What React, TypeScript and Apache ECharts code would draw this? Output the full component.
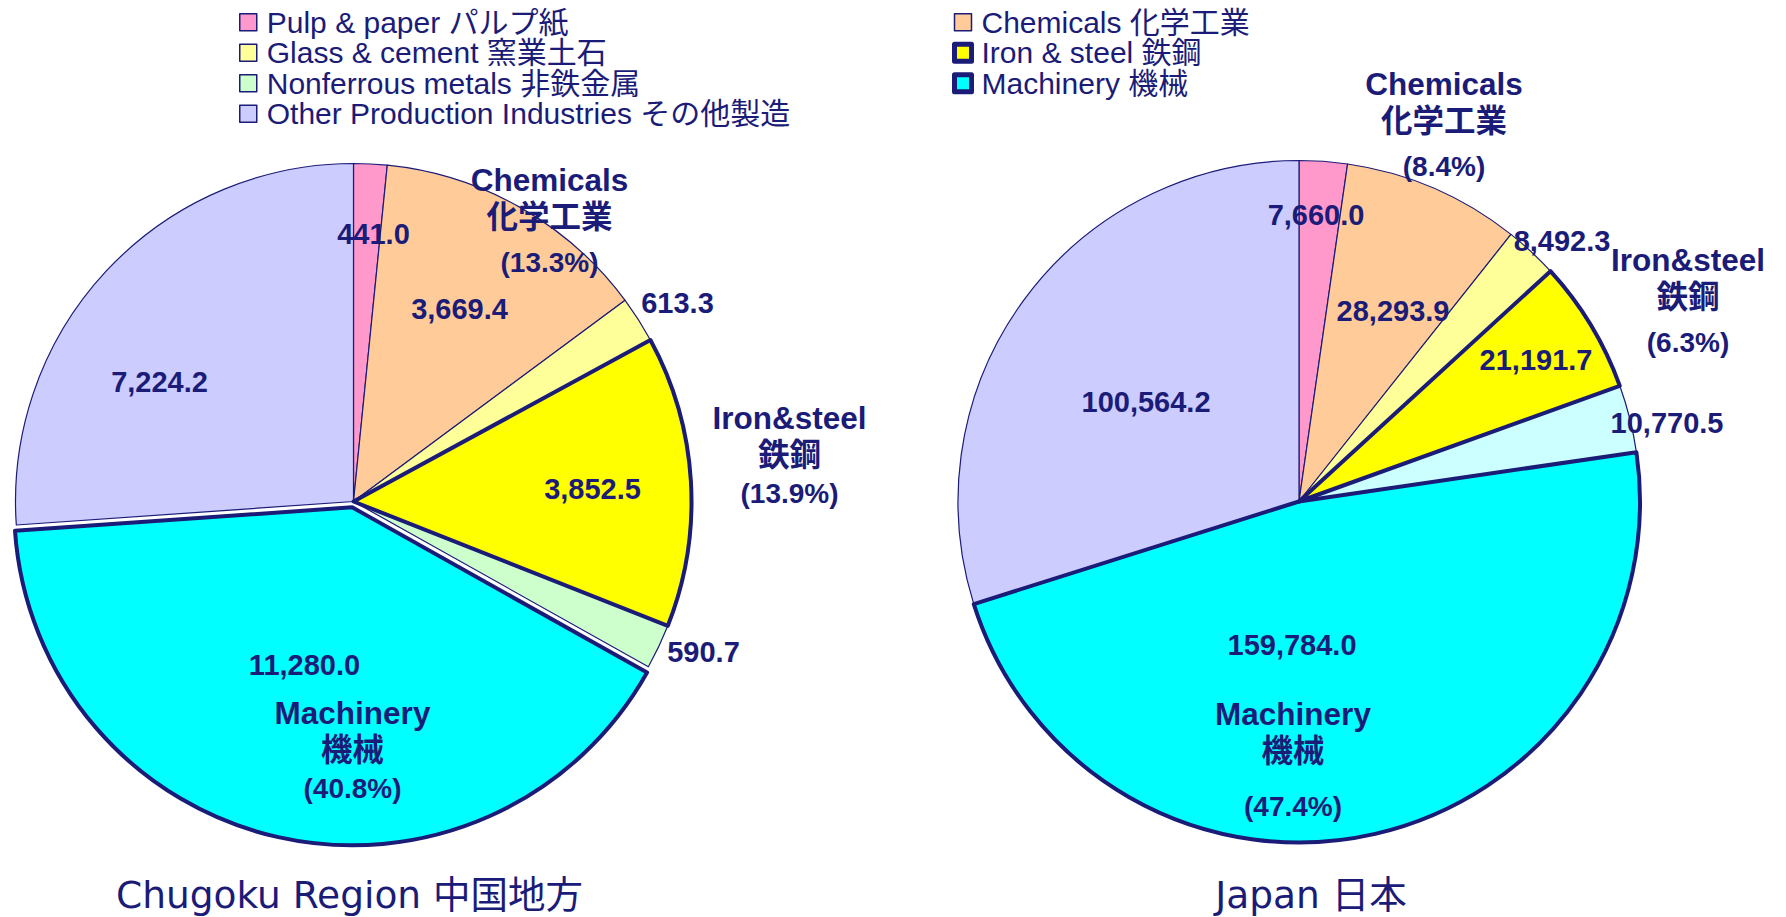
import React, { useEffect, useRef } from 'react';
import * as echarts from 'echarts';

// ---------- data ----------
const categories = [
  'Pulp & paper パルプ紙',
  'Chemicals 化学工業',
  'Glass & cement 窯業土石',
  'Iron & steel 鉄鋼',
  'Nonferrous metals 非鉄金属',
  'Machinery 機械',
  'Other Production Industries その他製造',
];
const chugokuValues = [441.0, 3669.4, 613.3, 3852.5, 590.7, 11280.0, 7224.2];
const japanValues = [7660.0, 28293.9, 8492.3, 21191.7, 10770.5, 159784.0, 100564.2];
const chartTitles = ['Chugoku Region 中国地方', 'Japan 日本'];
const majorNames: Record<number, string[]> = {
  1: ['Chemicals', '化学工業'],
  3: ['Iron&steel', '鉄鋼'],
  5: ['Machinery', '機械'],
};
const leftLegendIdx = [0, 2, 4, 6];
const rightLegendIdx = [1, 3, 5];

// ---------- styles / layout ----------
const NAVY = '#1b1b78';
const CLEAR = 'rgba(0,0,0,0)';
const chugokuColors = ['#FF99CC', '#FFCC99', '#FFFF99', '#FFFF00', '#CCFFCC', '#00FFFF', '#CCCCFF'];
const japanColors = ['#FF99CC', '#FFCC99', '#FFFF99', '#FFFF00', '#CCFFFF', '#00FFFF', '#CCCCFF'];
const thickIdx = [3, 5];
const FONT = "'Liberation Sans', Arial, 'Noto Sans CJK JP', sans-serif";
const TITLE_FONT = "'DejaVu Sans', 'Noto Sans CJK JP', sans-serif";

const pies = [
  {
    values: chugokuValues,
    colors: chugokuColors,
    center: [353.5, 501.5],
    radius: 338,
    exploded: [5],
    valueOffsets: [[20, -268], [106, -193], [324, -199], [239, -13], [350, 150], [-49, 163], [-194, -120]],
    nameOffsets: { 1: [196, -340, 'b'], 3: [436, -102, 'a'], 5: [-1, 193, 'a'] } as Record<number, any[]>,
    titleX: 349.5,
  },
  {
    values: japanValues,
    colors: japanColors,
    center: [1299, 501.5],
    radius: 341,
    exploded: [] as number[],
    valueOffsets: [[17, -287], [94, -191], [263, -261], [237, -142], [368, -79], [-7, 143], [-153, -100]],
    nameOffsets: { 1: [145, -436, 'b'], 3: [389, -260, 'b'], 5: [-6, 194, 'c'] } as Record<number, any[]>,
    titleX: 1311,
  },
];

const fmt = (v: number) =>
  v.toLocaleString('en-US', { minimumFractionDigits: 1, maximumFractionDigits: 1 });

const basePie = (p: any) => ({
  type: 'pie',
  center: p.center,
  radius: p.radius,
  startAngle: 90,
  clockwise: true,
  animation: false,
  avoidLabelOverlap: false,
  emphasis: { disabled: true },
  labelLine: { show: false },
});

export default function App() {
  const ref = useRef<HTMLDivElement>(null);

  useEffect(() => {
    if (!ref.current) return;
    const chart = echarts.init(ref.current, undefined, { renderer: 'svg' });

    const series: any[] = [];
    pies.forEach((p) => {
      const total = p.values.reduce((a: number, b: number) => a + b, 0);
      // 1. filled slices, thin borders (exploded slice offset)
      series.push({
        ...basePie(p),
        selectedMode: 'multiple',
        selectedOffset: 6,
        label: { show: false },
        data: categories.map((name, i) => {
          const st = { color: p.colors[i], borderColor: NAVY, borderWidth: 1.2 };
          return { name, value: p.values[i], selected: p.exploded.includes(i), itemStyle: st, select: { itemStyle: st } };
        }),
      });
      // 2. thick outlines on top
      series.push({
        ...basePie(p),
        silent: true,
        selectedMode: 'multiple',
        selectedOffset: 6,
        label: { show: false },
        data: categories.map((name, i) => {
          const thick = thickIdx.includes(i);
          const st = { color: CLEAR, borderColor: thick ? NAVY : CLEAR, borderWidth: thick ? 4 : 0 };
          return { name, value: p.values[i], selected: p.exploded.includes(i), itemStyle: st, select: { itemStyle: st } };
        }),
      });
      // 3. value labels
      series.push({
        ...basePie(p),
        silent: true,
        selectedMode: false,
        itemStyle: { color: CLEAR, borderWidth: 0 },
        data: categories.map((name, i) => ({ name, value: p.values[i], itemStyle: { color: CLEAR, borderWidth: 0 } })),
        label: {
          show: true,
          position: 'inside',
          formatter: (prm: any) => fmt(prm.value),
          color: NAVY,
          fontFamily: FONT,
          fontWeight: 'bold',
          fontSize: 29,
          textBorderWidth: 0,
        },
        labelLayout: (prm: any) => {
          const o = p.valueOffsets[prm.dataIndex];
          if (!o) return {};
          return { x: p.center[0] + o[0], y: p.center[1] + o[1], align: 'center', verticalAlign: 'middle' };
        },
      });
      // 4. category name + share labels
      series.push({
        ...basePie(p),
        silent: true,
        selectedMode: false,
        data: categories.map((name, i) => {
          const nm = majorNames[i];
          return {
            name,
            value: p.values[i],
            itemStyle: { color: CLEAR, borderWidth: 0 },
            label: nm
              ? {
                  show: true,
                  formatter: () =>
                    `{n|${nm[0]}}\n{n|${nm[1]}}\n{${p.nameOffsets[i][2]}|(${((p.values[i] / total) * 100).toFixed(1)}%)}`,
                }
              : { show: false },
          };
        }),
        label: {
          position: 'inside',
          color: NAVY,
          fontFamily: FONT,
          fontWeight: 'bold',
          fontSize: 31,
          textBorderWidth: 0,
          rich: {
            n: { fontSize: 31.5, fontWeight: 'bold', lineHeight: 37, color: NAVY, fontFamily: FONT, align: 'center' },
            a: { fontSize: 28, fontWeight: 'bold', lineHeight: 39, color: NAVY, fontFamily: FONT, align: 'center' },
            b: { fontSize: 28, fontWeight: 'bold', lineHeight: 53, color: NAVY, fontFamily: FONT, align: 'center' },
            c: { fontSize: 28, fontWeight: 'bold', lineHeight: 73, color: NAVY, fontFamily: FONT, align: 'center' },
          },
        },
        labelLayout: (prm: any) => {
          const o = p.nameOffsets[prm.dataIndex];
          if (!o) return {};
          return { x: p.center[0] + o[0], y: p.center[1] + o[1], align: 'center', verticalAlign: 'top' };
        },
      });
    });

    const legendCommon = {
      orient: 'vertical',
      top: 7,
      padding: 0,
      itemGap: 0,
      itemWidth: 17,
      itemHeight: 17,
      icon: 'rect',
      selectedMode: false,
      itemStyle: { borderColor: NAVY, borderWidth: 1.5 },
      textStyle: { color: NAVY, fontSize: 30, fontFamily: FONT, lineHeight: 30.5, padding: [0, 0, 0, 5] },
    };
    const legendData = (idx: number[]) =>
      idx.map((i) => ({
        name: categories[i],
        itemStyle: thickIdx.includes(i)
          ? { borderWidth: 5, borderColor: NAVY }
          : { borderWidth: 1.5, borderColor: NAVY },
      }));

    chart.setOption({
      animation: false,
      backgroundColor: '#ffffff',
      legend: [
        { ...legendCommon, left: 239, data: legendData(leftLegendIdx) },
        { ...legendCommon, left: 952, data: legendData(rightLegendIdx) },
      ],
      series,
      graphic: pies.map((p, k) => ({
        type: 'text',
        x: p.titleX,
        y: 895,
        style: {
          text: chartTitles[k],
          fontSize: 37.5,
          fontFamily: TITLE_FONT,
          fill: NAVY,
          align: 'center',
          verticalAlign: 'middle',
        },
      })),
    });

    return () => chart.dispose();
  }, []);

  return (
    <div
      ref={ref}
      style={{ position: 'absolute', left: 0, top: 0, width: 1786, height: 917, background: '#fff' }}
    />
  );
}
